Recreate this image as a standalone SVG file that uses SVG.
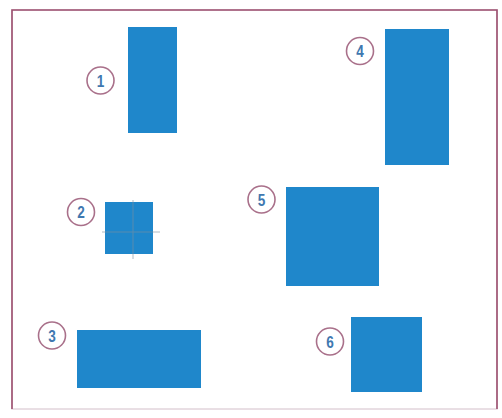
<svg xmlns="http://www.w3.org/2000/svg" width="502" height="418" viewBox="0 0 502 418">
<style>
.blk{fill:#1f87cb}
.badge circle{fill:#ffffff;stroke:#a9708a;stroke-width:1.6}
.badge text{font-family:"Liberation Sans","DejaVu Sans",sans-serif;font-weight:bold;font-size:17px;fill:#3f78b0;text-anchor:middle}
.cross{stroke:#7f8f9e;stroke-width:1;opacity:0.6}
</style>
<rect x="0" y="0" width="502" height="418" fill="#ffffff"/>
<rect x="12" y="10" width="485" height="399" fill="none" stroke="#e2d4db" stroke-width="1.5"/>
<path d="M12 409 V10 H497 V409" fill="none" stroke="#9c4f6f" stroke-width="1.6"/>
<g id="node1"><rect class="blk" x="128" y="27" width="49" height="106"/><g class="badge"><circle cx="100.5" cy="80.5" r="13.5"/><text transform="translate(100.5 86.5) scale(0.8 1)">1</text></g></g>
<g id="node2"><rect class="blk" x="105" y="202" width="48" height="52"/>
<g class="cross"><line x1="102" y1="232" x2="160" y2="232"/><line x1="133" y1="200" x2="133" y2="259"/></g>
<g class="badge"><circle cx="81" cy="212" r="13.5"/><text transform="translate(81 218) scale(0.8 1)">2</text></g></g>
<g id="node3"><rect class="blk" x="77" y="330" width="124" height="58"/><g class="badge"><circle cx="52" cy="335.5" r="13.5"/><text transform="translate(52 341.5) scale(0.8 1)">3</text></g></g>
<g id="node4"><rect class="blk" x="385" y="29" width="64" height="136"/><g class="badge"><circle cx="360" cy="51" r="13.5"/><text transform="translate(360 57) scale(0.8 1)">4</text></g></g>
<g id="node5"><rect class="blk" x="286" y="187" width="93" height="99"/><g class="badge"><circle cx="261.5" cy="199.5" r="13.5"/><text transform="translate(261.5 205.5) scale(0.8 1)">5</text></g></g>
<g id="node6"><rect class="blk" x="351" y="317" width="71" height="75"/><g class="badge"><circle cx="330" cy="341.5" r="13.5"/><text transform="translate(330 347.5) scale(0.8 1)">6</text></g></g>
<g id="connectors"></g>
</svg>
